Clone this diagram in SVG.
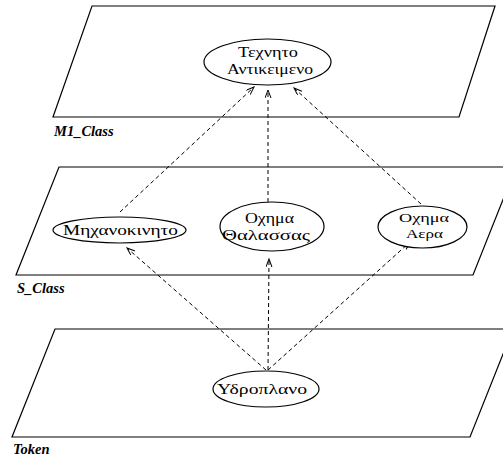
<svg xmlns="http://www.w3.org/2000/svg" width="503" height="457" viewBox="0 0 503 457">
  <style>
    .plane { fill: none; stroke: #000; stroke-width: 1.2; }
    .node ellipse { fill: #fff; stroke: #000; stroke-width: 1.2; }
    .node text { font-family: "Liberation Serif", "Times New Roman", "DejaVu Serif", serif; font-size: 15px; fill: #000; text-anchor: middle; }
    .node text.small { font-size: 13.5px; }
    .layer-label { font-family: "Liberation Serif", "Times New Roman", "DejaVu Serif", serif; font-size: 14.5px; font-weight: bold; font-style: italic; fill: #000; }
    .link { fill: none; stroke: #000; stroke-width: 1; stroke-dasharray: 4 3; marker-end: url(#open-arrow); }
  </style>
  <defs>
    <marker id="open-arrow" markerUnits="userSpaceOnUse" markerWidth="10" markerHeight="8" refX="8" refY="3" orient="auto">
      <path d="M0,0 L8,3 L0,6" fill="none" stroke="#000" stroke-width="1"/>
    </marker>
  </defs>
  <rect width="503" height="457" fill="#fff"/>

  <!-- layer planes -->
  <g id="layers">
    <polygon class="plane" points="92,6 495,6 459,117 53,117"/>
    <polygon class="plane" points="59,167 516,167 473,275 16,275"/>
    <polygon class="plane" points="55,329 513,329 470,437 12,437"/>
    <text class="layer-label" x="54" y="136">M1_Class</text>
    <text class="layer-label" x="17" y="293">S_Class</text>
    <text class="layer-label" x="13" y="454">Token</text>
  </g>

  <!-- connectors -->
  <g id="connectors">
    <line class="link" x1="120" y1="212" x2="254" y2="87"/>
    <line class="link" x1="268" y1="202" x2="268" y2="90"/>
    <line class="link" x1="421" y1="204" x2="294" y2="88"/>
    <line class="link" x1="266" y1="370" x2="127" y2="248"/>
    <line class="link" x1="268" y1="370" x2="269" y2="259"/>
    <line class="link" x1="268" y1="370" x2="410" y2="242"/>
  </g>

  <!-- nodes -->
  <g id="techneto" class="node">
    <ellipse cx="267.5" cy="62" rx="63.5" ry="23"/>
    <text x="268" y="57" textLength="60" lengthAdjust="spacingAndGlyphs">Τεχνητο</text>
    <text x="270" y="74" textLength="86" lengthAdjust="spacingAndGlyphs">Αντικειμενο</text>
  </g>
  <g id="michanokineto" class="node">
    <ellipse cx="119.5" cy="230" rx="66.5" ry="13"/>
    <text x="120.5" y="235" textLength="115" lengthAdjust="spacingAndGlyphs">Μηχανοκινητο</text>
  </g>
  <g id="ochima-thalassas" class="node">
    <ellipse cx="272" cy="226.5" rx="52" ry="24.5"/>
    <text x="269.5" y="223" textLength="49" lengthAdjust="spacingAndGlyphs">Οχημα</text>
    <text x="266" y="240" textLength="88" lengthAdjust="spacingAndGlyphs">Θαλασσας</text>
  </g>
  <g id="ochima-aera" class="node">
    <ellipse cx="422.5" cy="227" rx="44.5" ry="21"/>
    <text class="small" x="424" y="222" textLength="50" lengthAdjust="spacingAndGlyphs">Οχημα</text>
    <text class="small" x="424.5" y="238" textLength="37" lengthAdjust="spacingAndGlyphs">Αερα</text>
  </g>
  <g id="ydroplano" class="node">
    <ellipse cx="266" cy="389" rx="53" ry="18"/>
    <text x="262" y="394" textLength="90" lengthAdjust="spacingAndGlyphs">Υδροπλανο</text>
  </g>
</svg>
